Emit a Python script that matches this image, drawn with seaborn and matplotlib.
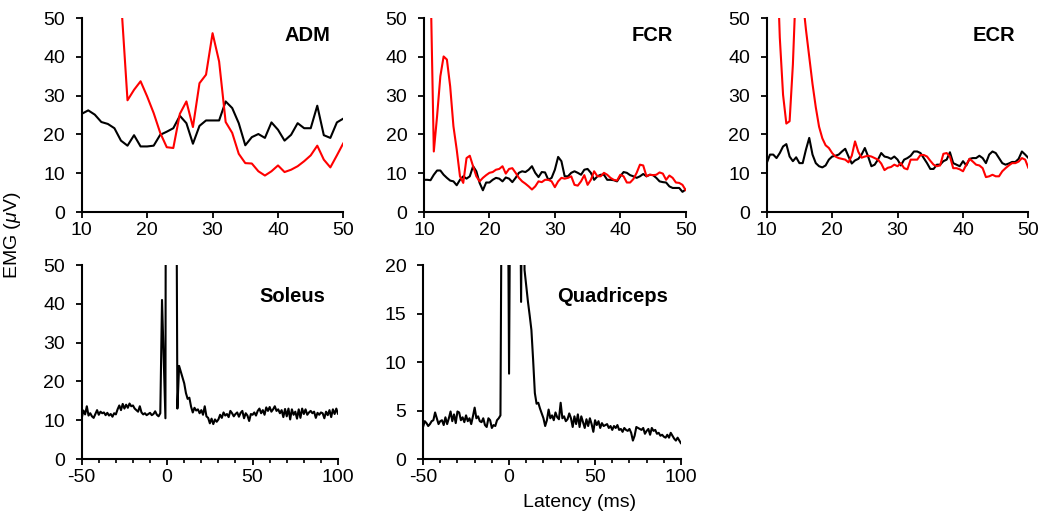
import numpy as np
import matplotlib
matplotlib.use("Agg")
import matplotlib.pyplot as plt
from matplotlib.ticker import MultipleLocator
import seaborn as sns

# --- upper limb muscles: latency (ms) vs EMG (uV), black = control, red = stim
adm_ms = np.arange(10, 51, 1)
adm_black = [25.3, 26.2, 25.1, 23.2, 22.7, 21.6, 18.4, 17.1, 19.8, 16.9,
             16.9, 17.1, 19.9, 20.7, 21.6, 24.8, 22.9, 17.6, 22.2, 23.6,
             23.6, 23.6, 28.5, 26.8, 22.9, 17.2, 19.3, 20.1, 19.1, 23.1,
             21.2, 18.4, 19.9, 22.9, 21.6, 21.6, 27.4, 19.8, 19.1, 23.1,
             24.1]
adm_red_ms = np.arange(16, 51, 1)
adm_red = [55.0, 28.8, 31.5, 33.7, 29.8, 25.5, 20.4, 16.7, 16.5, 25.3,
           28.5, 21.9, 33.2, 35.4, 46.1, 38.8, 23.2, 20.4, 15.0, 12.6,
           12.5, 10.5, 9.4, 10.5, 12.0, 10.3, 10.9, 11.8, 13.1, 14.6,
           17.1, 13.5, 11.5, 14.6, 17.8]

fcr_ms = np.arange(10, 50.5, 0.5)
fcr_black = [8.3, 8.3, 8.2, 9.6, 10.7, 10.7, 9.6, 8.8, 8.1, 7.9,
             6.9, 8.3, 9.2, 8.6, 9.2, 11.8, 10.5, 7.5, 5.6, 7.6,
             7.6, 8.3, 8.8, 8.6, 7.9, 8.9, 8.6, 7.7, 8.8, 10.1,
             10.5, 10.3, 10.9, 11.8, 10.1, 9.0, 10.3, 10.2, 8.3, 8.8,
             10.9, 14.2, 13.1, 9.2, 9.2, 10.1, 10.5, 10.1, 9.6, 10.9,
             11.1, 10.1, 8.3, 9.2, 9.6, 9.6, 8.3, 8.3, 8.2, 7.9,
             9.2, 10.3, 10.1, 9.5, 9.2, 8.8, 9.2, 9.8, 9.2, 9.6,
             9.5, 8.8, 7.9, 7.7, 7.6, 6.6, 6.2, 6.2, 6.2, 5.2,
             5.8]
fcr_red_ms = np.arange(11, 50.5, 0.5)
fcr_red = [60.0, 15.6, 24.7, 35.0, 40.1, 39.3, 32.4, 22.1, 16.1, 9.2,
           7.5, 13.9, 14.5, 11.8, 9.2, 7.9, 8.8, 9.5, 10.1, 10.3,
           10.9, 11.1, 11.8, 9.9, 11.1, 11.3, 10.1, 8.8, 7.9, 7.3,
           6.6, 5.8, 6.6, 7.9, 7.7, 8.3, 8.3, 7.9, 6.4, 7.9,
           8.8, 8.6, 8.8, 9.2, 7.0, 6.8, 7.9, 9.5, 7.0, 8.3,
           10.5, 9.2, 9.2, 10.1, 9.6, 8.8, 8.3, 8.1, 9.6, 9.2,
           7.6, 7.6, 8.5, 10.1, 12.2, 12.0, 9.2, 9.6, 9.5, 9.6,
           10.2, 9.9, 8.3, 9.4, 8.8, 7.6, 7.5, 7.0, 5.6]

ecr_ms = np.arange(10, 50.5, 0.5)
ecr_black = [12.6, 14.8, 14.8, 13.9, 15.2, 16.9, 17.5, 14.3, 13.1, 14.1,
             12.6, 12.6, 16.1, 19.1, 14.8, 12.6, 11.8, 11.5, 12.0, 13.5,
             14.3, 14.5, 14.8, 15.6, 16.3, 14.3, 12.5, 13.3, 13.7, 14.8,
             16.5, 14.3, 11.8, 12.2, 13.5, 15.2, 14.3, 14.1, 13.7, 14.3,
             13.5, 12.0, 13.5, 13.9, 14.5, 15.6, 15.6, 15.2, 13.9, 12.6,
             11.1, 11.1, 12.2, 12.2, 13.1, 13.5, 15.4, 12.6, 12.2, 11.8,
             13.1, 12.0, 13.7, 13.9, 13.9, 14.5, 13.9, 12.6, 14.8, 15.6,
             15.2, 13.9, 12.6, 12.2, 12.5, 12.9, 12.9, 13.7, 15.6, 14.8,
             13.9]
ecr_red_ms = np.arange(11.5, 50.5, 0.5)
ecr_red = [70.0, 45.0, 30.2, 22.8, 23.4, 38.0, 60.0, 80.0, 55.0, 47.0,
           40.0, 33.0, 27.0, 22.0, 19.0, 17.2, 16.5, 15.2, 14.3, 13.9,
           13.7, 13.5, 12.8, 14.5, 18.2, 15.5, 14.0, 14.3, 14.5, 14.3,
           13.9, 13.5, 12.5, 10.8, 11.4, 11.6, 12.2, 11.8, 12.6, 11.3,
           11.0, 13.5, 13.5, 13.5, 14.7, 14.7, 14.3, 13.2, 12.2, 11.8,
           12.0, 15.0, 15.2, 14.3, 11.3, 11.3, 11.0, 10.5, 12.2, 13.7,
           13.0, 12.2, 12.0, 11.3, 9.0, 9.2, 9.6, 9.2, 9.2, 10.5,
           11.3, 12.0, 12.6, 12.6, 13.0, 13.9, 13.5, 11.3]

# --- lower limb muscles, -50..100 ms
leg_ms = np.arange(-50, 101, 1)
soleus = [10.5, 12.5, 11.5, 13.6, 11.2, 11.8, 11.0, 10.6, 11.6, 12.6,
          11.4, 12.2, 11.8, 12.0, 11.3, 11.9, 11.2, 11.6, 10.9, 11.8,
          11.5, 12.8, 13.8, 12.6, 14.2, 13.0, 14.0, 13.2, 14.3, 13.6,
          13.8, 13.0, 12.6, 12.2, 13.6, 12.0, 11.5, 11.8, 11.3, 11.6,
          11.9, 11.3, 11.6, 12.3, 11.4, 11.0, 11.8, 41.0, 26.0, 10.5,
          300.0, 250.0, 200.0, 150.0, 200.0, 120.0, 13.0, 24.0, 22.5, 21.0,
          19.5, 17.0, 15.5, 15.8, 13.5, 12.0, 13.2, 12.5, 12.8, 11.8,
          12.6, 11.4, 13.6, 11.0, 10.6, 9.2, 10.4, 9.0, 10.2, 9.6,
          10.2, 11.4, 10.6, 12.0, 11.2, 11.6, 10.8, 12.4, 11.8, 11.0,
          11.6, 12.0, 10.9, 11.9, 12.4, 10.5, 11.8, 11.2, 9.8, 11.6,
          11.4, 12.0, 11.2, 12.4, 13.0, 11.8, 12.6, 11.4, 13.3, 12.4,
          13.4, 12.2, 12.8, 13.6, 12.4, 12.8, 11.8, 12.6, 10.8, 12.9,
          11.0, 13.0, 10.2, 12.8, 11.4, 12.2, 10.4, 12.8, 10.6, 13.0,
          11.6, 12.8, 11.4, 12.0, 12.4, 11.8, 12.2, 10.6, 11.9, 11.4,
          12.0, 11.8, 10.5, 12.2, 11.3, 12.6, 10.8, 12.8, 11.6, 13.0,
          11.6]
quadriceps = [3.3, 3.9, 3.7, 3.4, 3.6, 3.9, 4.0, 4.8, 4.2, 3.6,
              3.9, 4.0, 3.5, 4.3, 3.6, 4.2, 4.9, 3.9, 4.6, 3.7,
              4.9, 4.8, 4.0, 4.3, 3.8, 4.5, 3.9, 4.2, 3.6, 4.4,
              5.3, 4.2, 4.4, 3.9, 3.8, 4.2, 3.5, 3.3, 4.2, 4.0,
              3.2, 3.5, 3.4, 4.0, 4.2, 4.5, 40.0, 40.0, 40.0, 40.0,
              8.8, 40.0, 40.0, 40.0, 40.0, 40.0, 40.0, 16.2, 40.0, 19.5,
              17.8, 16.2, 14.8, 13.3, 10.2, 6.8, 5.7, 5.8, 5.2, 4.7,
              4.2, 3.4, 4.0, 5.1, 4.2, 4.5, 4.0, 4.8, 4.3, 4.1,
              5.8, 4.2, 4.4, 3.9, 4.1, 4.7, 4.2, 3.3, 4.4, 3.6,
              4.6, 3.3, 4.4, 3.8, 3.2, 4.1, 3.4, 4.2, 3.6, 2.8,
              4.0, 3.5, 3.9, 3.2, 3.7, 3.4, 3.5, 3.6, 3.2, 3.4,
              3.0, 3.4, 3.2, 3.5, 3.0, 3.1, 2.8, 3.2, 3.0, 2.9,
              3.1, 2.7, 1.9, 2.4, 3.3, 3.2, 3.1, 3.0, 3.2, 2.6,
              2.9, 3.1, 2.5, 3.2, 2.9, 3.0, 2.6, 2.7, 2.4, 2.5,
              2.3, 2.2, 2.5, 2.2, 2.7, 2.4, 2.1, 1.9, 2.2, 1.9,
              1.6]

sns.set_style("ticks")
plt.rcParams['font.family'] = ['Liberation Sans', 'DejaVu Sans']
plt.rcParams['text.color'] = 'black'
plt.rcParams['axes.unicode_minus'] = False
plt.rcParams['mathtext.fontset'] = 'custom'
plt.rcParams['mathtext.rm'] = 'Liberation Sans'
plt.rcParams['mathtext.it'] = 'Liberation Sans:italic'

fig = plt.figure(figsize=(10.42, 5.2), dpi=100)

def style(ax, xlim, ylim, xmaj, ymaj, xmin=None, title="", ty=0.909):
    ax.set_xlim(*xlim)
    ax.set_ylim(*ylim)
    ax.xaxis.set_major_locator(MultipleLocator(xmaj))
    ax.yaxis.set_major_locator(MultipleLocator(ymaj))
    if xmin:
        ax.xaxis.set_minor_locator(MultipleLocator(xmin))
    for s in ["top", "right"]:
        ax.spines[s].set_visible(False)
    for s in ["left", "bottom"]:
        ax.spines[s].set_linewidth(1.5)
        ax.spines[s].set_color("black")
    ax.tick_params(which="major", direction="out", length=4, width=1.3,
                   labelsize=14, colors="black", pad=3)
    ax.tick_params(axis="y", which="major", pad=8)
    ax.tick_params(which="minor", direction="out", length=3, width=1.2, colors="black")
    ax.set_xlabel("")
    ax.set_ylabel("")
    ax.text(0.95, ty, title, transform=ax.transAxes, ha="right", va="center",
            fontsize=14.5, fontweight="bold", color="black")

top = [("ADM", 0.0784, adm_ms, adm_black, adm_red_ms, adm_red),
       ("FCR", 0.4069, fcr_ms, fcr_black, fcr_red_ms, fcr_red),
       ("ECR", 0.7358, ecr_ms, ecr_black, ecr_red_ms, ecr_red)]
for name, left, xb, yb, xr, yr in top:
    ax = fig.add_axes([left, 0.5923, 0.2512, 0.373])
    sns.lineplot(x=xb, y=yb, ax=ax, color="black", linewidth=1.5)
    sns.lineplot(x=xr, y=yr, ax=ax, color="#ff0000", linewidth=1.5)
    style(ax, (10, 50), (0, 50), 10, 10, title=name)

ax = fig.add_axes([0.0784, 0.1173, 0.246, 0.373])
sns.lineplot(x=leg_ms, y=soleus, ax=ax, color="black", linewidth=1.5)
style(ax, (-50, 100), (0, 50), 50, 10, xmin=10, title="Soleus", ty=0.837)

ax = fig.add_axes([0.406, 0.1173, 0.2476, 0.373])
sns.lineplot(x=leg_ms, y=quadriceps, ax=ax, color="black", linewidth=1.5)
style(ax, (-50, 100), (0, 20), 50, 5, xmin=10, title="Quadriceps", ty=0.837)

fig.text(0.012, 0.548, r"EMG ($\mathit{\mu}$V)", rotation=90, ha="center", va="center", fontsize=14)
fig.text(0.556, 0.033, "Latency (ms)", ha="center", va="center", fontsize=14)

fig.savefig("out.png", dpi=100)
